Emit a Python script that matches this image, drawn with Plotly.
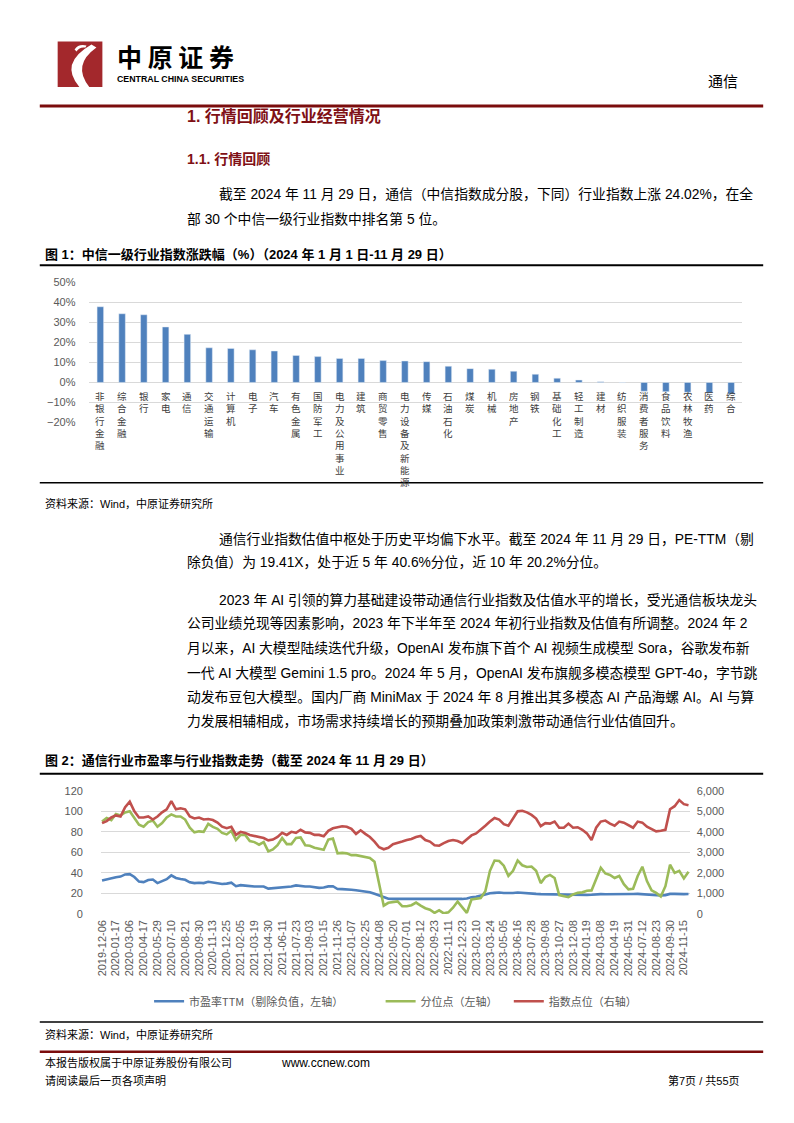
import plotly.graph_objects as go

W, H = 794, 1123

# ---------------- Chart 1 data ----------------
industries = ["非银行金融", "综合金融", "银行", "家电", "通信", "交通运输", "计算机", "电子", "汽车",
              "有色金属", "国防军工", "电力及公用事业", "建筑", "商贸零售", "电力设备及新能源", "传媒",
              "石油石化", "煤炭", "机械", "房地产", "钢铁", "基础化工", "轻工制造", "建材", "纺织服装",
              "消费者服务", "食品饮料", "农林牧渔", "医药", "综合"]
changes = [37.8, 34.3, 33.8, 27.7, 24.02, 17.3, 17.0, 16.3, 15.7, 13.5, 12.9, 12.0, 12.0, 10.9, 10.7,
           10.4, 8.1, 6.9, 6.6, 5.6, 4.1, 2.1, 1.2, 0.4, -0.1, -4.4, -4.6, -4.9, -5.2, -5.8]

# ---------------- Chart 2 data (bi-weekly samples of weekly series) ----------------
date_labels = ["2019-12-06", "2020-01-17", "2020-03-06", "2020-04-17", "2020-05-29", "2020-07-10",
               "2020-08-21", "2020-09-30", "2020-11-13", "2020-12-25", "2021-02-05", "2021-03-19",
               "2021-04-30", "2021-06-11", "2021-07-23", "2021-09-03", "2021-10-15", "2021-11-26",
               "2022-01-07", "2022-02-25", "2022-04-08", "2022-05-20", "2022-07-01", "2022-08-12",
               "2022-09-23", "2022-11-11", "2022-12-23", "2023-02-10", "2023-03-24", "2023-05-05",
               "2023-06-16", "2023-07-28", "2023-09-08", "2023-10-27", "2023-12-08", "2024-01-19",
               "2024-03-08", "2024-04-19", "2024-05-31", "2024-07-12", "2024-08-23", "2024-09-30",
               "2024-11-15"]
weeks_per_label = 6
weeks_per_sample = 2

pe_ttm = [32.5, 33.8, 34.7, 35.7, 36.4, 38.5, 38.8, 36.0, 31.5, 31.0,
          33.0, 33.5, 30.0, 32.2, 33.8, 37.5, 35.0, 34.0, 33.2, 30.8,
          30.0, 30.4, 30.0, 31.3, 30.8, 30.2, 29.2, 29.5, 30.4, 27.0,
          28.0, 27.6, 27.0, 26.7, 26.7, 26.7, 24.6, 25.0, 25.8, 26.5,
          26.7, 26.7, 27.8, 26.9, 26.7, 26.7, 25.8, 25.4, 25.8, 26.8,
          27.0, 24.2, 24.1, 24.0, 23.5, 23.0, 22.6, 21.9, 21.2, 19.6,
          18.2, 16.5, 14.8, 14.6, 14.6, 14.5, 14.4, 14.5, 14.4, 14.3,
          14.2, 14.1, 14.0, 14.0, 14.2, 14.3, 14.5, 14.6, 14.6, 15.0,
          16.2, 16.6, 17.8, 19.0, 20.2, 20.5, 20.8, 20.3, 20.0, 20.3,
          20.8, 20.3, 19.9, 19.7, 19.5, 19.3, 19.2, 19.0, 18.7, 18.6,
          18.6, 18.6, 18.5, 18.2, 18.0, 18.4, 18.6, 19.2, 19.3, 19.2,
          19.2, 19.0, 18.7, 18.7, 19.0, 19.4, 19.5, 19.2, 18.7, 18.6,
          18.2, 17.9, 18.3, 19.5, 19.5, 19.2, 19.3, 19.41]

percentile = [90, 93.5, 91.5, 97.5, 96, 99, 100, 93, 87, 85,
              89.5, 91, 85, 88.5, 94, 97, 95, 95, 92, 84,
              79.5, 80.5, 80, 87.8, 84.8, 83, 79, 77.5, 81, 72,
              77, 77, 71, 70, 67.5, 70, 61, 62.8, 67, 74,
              68, 68, 74, 74.5, 67, 66.5, 64.5, 63.5, 62.5, 72.5,
              73.4, 59, 59.5, 59, 57.3, 57.3, 56.5, 55.8, 54.5, 50.8,
              30, 8, 10.8, 11.3, 12.2, 7.5, 7.5, 8.5, 11, 8,
              5.5, 4, 1, 3.5, 0.5, 1.5, 6, 12, 6, 1,
              14, 14.8, 15.4, 22, 42, 52, 51.5, 47, 37, 42,
              52, 47.4, 45.8, 46.2, 42, 30, 36, 38, 35, 18.3,
              17, 16.3, 19, 20.5, 21, 22.5, 22.9, 34, 45, 39.4,
              38, 35, 37, 29, 24, 24.5, 37, 46, 32, 23,
              20.5, 17, 27, 48, 40, 42, 34.6, 41]

index_level = [4425, 4525, 4700, 4800, 4750, 5200, 5475, 5000, 4700, 4700,
               4750, 4600, 4750, 4950, 5100, 5500, 5100, 5150, 5100, 4750,
               4650, 4700, 4600, 4625, 4575, 4450, 4250, 4175, 4250, 3850,
               4000, 3950, 3850, 3800, 3775, 3700, 3585, 3625, 3750, 3950,
               3850, 4000, 3950, 4100, 3975, 3950, 3850, 3850, 3780, 4050,
               4175, 4225, 4275, 4250, 4150, 3900, 4075, 3900, 3750, 3525,
               3250, 3150, 3225, 3400, 3450, 3525, 3600, 3650, 3750, 3800,
               3600, 3525, 3350, 3325, 3450, 3550, 3600, 3550, 3450, 3650,
               3825, 3925, 4100, 4300, 4500, 4675, 4600, 4375, 4300, 4650,
               5000, 5025, 4950, 4825, 4650, 4275, 4425, 4400, 4500, 4200,
               4200, 4400, 4200, 4225, 4100, 3925, 3600, 4200, 4500, 4550,
               4400, 4300, 4500, 4450, 4335, 4200, 4500, 4450, 4250, 4150,
               4025, 4050, 4100, 5100, 5250, 5550, 5350, 5300]

week_x = [i * weeks_per_sample for i in range(len(pe_ttm))]
tick_pos = [i * weeks_per_label for i in range(len(date_labels))]

# ---------------- helpers ----------------
def fx(x):
    return x / W

def fy(y):
    return 1 - y / H

FONT = "Liberation Sans, Arial, Noto Sans CJK SC, sans-serif"
GRAY = "#595959"
BLUE = "#4F81BD"
GREEN = "#9BBB59"
RED = "#C0504D"
MAROON = "#7F1015"

fig = go.Figure()

# Chart 1 bars
fig.add_trace(go.Bar(x=industries, y=changes, marker_color=BLUE, width=0.3,
                     xaxis="x", yaxis="y", showlegend=False))

# Chart 2 lines
fig.add_trace(go.Scatter(x=week_x, y=pe_ttm, mode="lines", name="市盈率TTM（剔除负值，左轴）",
                         line=dict(color=BLUE, width=2.6), xaxis="x2", yaxis="y2", legend="legend"))
fig.add_trace(go.Scatter(x=week_x, y=percentile, mode="lines", name="分位点（左轴）",
                         line=dict(color=GREEN, width=2.6), xaxis="x2", yaxis="y2", legend="legend2"))
fig.add_trace(go.Scatter(x=week_x, y=index_level, mode="lines", name="指数点位（右轴）",
                         line=dict(color=RED, width=2.6), xaxis="x2", yaxis="y3", legend="legend3"))

annotations = []

def txt(x, y, s, size=13.8, color="black", anchor="left", bold=False, family=FONT):
    if bold:
        s = "<b>" + s + "</b>"
    annotations.append(dict(x=fx(x), y=fy(y), xref="paper", yref="paper", text=s,
                            showarrow=False, xanchor=anchor, yanchor="middle",
                            font=dict(size=size, color=color, family=family)))

# Header
txt(111, 51, "中 原 证 券", size=25, bold=True, family="Noto Sans CJK SC")
txt(111, 74, "CENTRAL CHINA SECURITIES", size=8.8, bold=True)
txt(740, 75, "通信", size=15, anchor="right", family="Noto Sans CJK SC")

# Headings
txt(181, 111, "1. 行情回顾及行业经营情况", size=16, bold=True, color=MAROON)
txt(181, 155, "1.1. 行情回顾", size=14, bold=True, color=MAROON)

# Paragraph 1
txt(213, 190, "截至 2024 年 11 月 29 日，通信（中信指数成分股，下同）行业指数上涨 24.02%，在全")
txt(181, 215, "部 30 个中信一级行业指数中排名第 5 位。")

# Chart 1 title / source
txt(38, 251, "图 1：中信一级行业指数涨跌幅（%）（2024 年 1 月 1 日-11 月 29 日）", size=13, bold=True)
txt(38, 503, "资料来源：Wind，中原证券研究所", size=11)

# Paragraph 2
txt(213, 539, "通信行业指数估值中枢处于历史平均偏下水平。截至 2024 年 11 月 29 日，PE-TTM（剔")
txt(181, 563, "除负值）为 19.41X，处于近 5 年 40.6%分位，近 10 年 20.2%分位。")

# Paragraph 3
txt(213, 600, "2023 年 AI 引领的算力基础建设带动通信行业指数及估值水平的增长，受光通信板块龙头")
txt(181, 624, "公司业绩兑现等因素影响，2023 年下半年至 2024 年初行业指数及估值有所调整。2024 年 2")
txt(181, 649, "月以来，AI 大模型陆续迭代升级，OpenAI 发布旗下首个 AI 视频生成模型 Sora，谷歌发布新")
txt(181, 674, "一代 AI 大模型 Gemini 1.5 pro。2024 年 5 月，OpenAI 发布旗舰多模态模型 GPT-4o，字节跳")
txt(181, 698, "动发布豆包大模型。国内厂商 MiniMax 于 2024 年 8 月推出其多模态 AI 产品海螺 AI。AI 与算")
txt(181, 723, "力发展相辅相成，市场需求持续增长的预期叠加政策刺激带动通信行业估值回升。")

# Chart 2 title / source
txt(38, 763, "图 2：通信行业市盈率与行业指数走势（截至 2024 年 11 月 29 日）", size=13, bold=True)
txt(38, 1040, "资料来源：Wind，中原证券研究所", size=11)

# Footer
txt(38, 1068, "本报告版权属于中原证券股份有限公司", size=11)
txt(276, 1068, "www.ccnew.com", size=12)
txt(38, 1086, "请阅读最后一页各项声明", size=11)
txt(742, 1086, "第7页 / 共55页", size=11, anchor="right")

# Chart 1 category labels (stacked vertical characters below the zero line)
for name in industries:
    annotations.append(dict(x=name, y=0, xref="x", yref="y", text="<br>".join(name),
                            showarrow=False, xanchor="center", yanchor="top", yshift=-5,
                            font=dict(size=9.5, color="#404040", family="Noto Sans CJK SC")))

# ---------------- shapes ----------------
shapes = []

def hline(y, x0, x1, color, width):
    shapes.append(dict(type="line", xref="paper", yref="paper", x0=fx(x0), x1=fx(x1),
                       y0=fy(y), y1=fy(y), line=dict(color=color, width=width)))

hline(101, 35, 763, "#7B0C0C", 3)
hline(262, 35, 763, "black", 2)
hline(482, 35, 763, "black", 1.5)
hline(776, 35, 763, "black", 2)
hline(1027, 35, 763, "black", 1.5)
hline(1057, 35, 763, "#7B0C0C", 2.5)

# Logo block
shapes.append(dict(type="rect", xref="paper", yref="paper", x0=fx(53), x1=fx(98), y0=fy(82), y1=fy(36),
                   fillcolor="#A3282C", line=dict(width=0)))

def pt(x, y):
    return f"{fx(x):.5f},{fy(y):.5f}"

swoosh = ("M " + pt(87, 39) + " Q " + pt(54, 58) + " " + pt(75, 82) + " L " + pt(85, 82) +
          " Q " + pt(67, 60) + " " + pt(92, 42) + " Z")
shapes.append(dict(type="path", xref="paper", yref="paper", path=swoosh,
                   fillcolor="white", line=dict(width=0)))
hook = ("M " + pt(70, 44) + " Q " + pt(74, 38) + " " + pt(82, 40) + " L " + pt(81, 42) +
        " Q " + pt(75, 41) + " " + pt(72, 46) + " Z")
shapes.append(dict(type="path", xref="paper", yref="paper", path=hook,
                   fillcolor="white", line=dict(width=0)))

tickfont = dict(size=11, color=GRAY, family=FONT)
legfont = dict(size=11, color=GRAY, family="Noto Sans CJK SC")

fig.update_layout(
    width=W, height=H, margin=dict(l=0, r=0, t=0, b=0),
    paper_bgcolor="white", plot_bgcolor="white",
    font=dict(family=FONT),
    bargap=0.7,
    xaxis=dict(domain=[fx(85), fx(741.7)], anchor="y", range=[-0.5, len(industries) - 0.5],
               showticklabels=False, showgrid=False, zeroline=False, showline=False),
    yaxis=dict(domain=[fy(421), fy(279.3)], anchor="x", range=[-20, 50], dtick=10,
               ticksuffix="%", showgrid=True, gridcolor="#D9D9D9", gridwidth=1,
               zeroline=False, showline=False, tickfont=tickfont, ticklabelstandoff=13),
    xaxis2=dict(domain=[fx(96.5), fx(689)], anchor="y2", range=[-0.5, 254.5],
                tickmode="array", tickvals=tick_pos, ticktext=date_labels, tickangle=-90,
                showgrid=False, zeroline=False, showline=False, tickfont=tickfont,
                ticklabelstandoff=3),
    yaxis2=dict(domain=[fy(917.7), fy(793.3)], anchor="x2", range=[0, 120], dtick=20,
                showgrid=True, gridcolor="#D9D9D9", gridwidth=1, zeroline=False,
                showline=False, tickfont=tickfont, ticklabelstandoff=17),
    yaxis3=dict(overlaying="y2", anchor="x2", side="right", range=[0, 6000], dtick=1000,
                tickformat=",", showgrid=False, zeroline=False, showline=False,
                tickfont=tickfont, ticklabelstandoff=6),
    legend=dict(x=fx(145), y=fy(1006), xanchor="left", yanchor="middle", orientation="h",
                font=legfont, bgcolor="rgba(0,0,0,0)", itemwidth=30),
    legend2=dict(x=fx(378), y=fy(1006), xanchor="left", yanchor="middle", orientation="h",
                 font=legfont, bgcolor="rgba(0,0,0,0)", itemwidth=30),
    legend3=dict(x=fx(507), y=fy(1006), xanchor="left", yanchor="middle", orientation="h",
                 font=legfont, bgcolor="rgba(0,0,0,0)", itemwidth=30),
    annotations=annotations,
    shapes=shapes,
)

fig.write_html("out.html", config={"displayModeBar": False},
               post_script="document.body.style.margin='0';document.body.style.overflow='hidden';")
